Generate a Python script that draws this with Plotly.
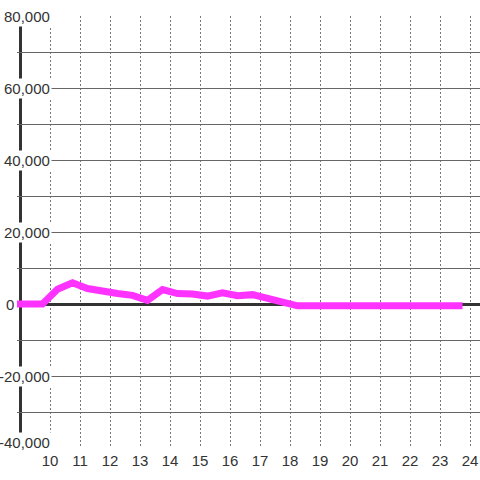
import plotly.graph_objects as go

# Data
hours = [8.75, 9.25, 9.75, 10.25, 10.75, 11.25, 11.75, 12.25, 12.75, 13.25, 13.75,
         14.25, 14.75, 15.25, 15.75, 16.25, 16.75, 17.25, 17.75, 18.25, 18.75,
         19.25, 19.75, 20.25, 20.75, 21.25, 21.75, 22.25, 22.75, 23.25, 23.75]
values = [0, 0, 0, 4100, 5900, 4300, 3500, 2900, 2400, 1000, 4000,
          2900, 2800, 2200, 3100, 2300, 2600, 1400, 400, -500, -500,
          -500, -500, -500, -500, -500, -500, -500, -500, -500, -500]
x_ticks = list(range(10, 25))
y_ticks = [-40000, -20000, 0, 20000, 40000, 60000, 80000]
y_labels = ["-40,000", "-20,000", "0", "20,000", "40,000", "60,000", "80,000"]

W, H = 480, 480
ML, MR, MT, MB = 17, 0, 16, 32
plot_w = W - ML - MR
px_per_unit = 30.0
x0 = 10 - (50 - ML) / px_per_unit
x1 = x0 + plot_w / px_per_unit

fig = go.Figure()
fig.add_trace(go.Scatter(
    x=hours, y=values, mode="lines",
    line=dict(color="#ff33ff", width=7),
    hoverinfo="skip", showlegend=False,
))

fig.update_layout(
    width=W, height=H,
    margin=dict(l=ML, r=MR, t=MT, b=MB, autoexpand=False),
    paper_bgcolor="white", plot_bgcolor="white",
    font=dict(family="Liberation Sans, Arial, sans-serif", size=15, color="#333333"),
    xaxis=dict(
        range=[x0, x1], tickvals=x_ticks, ticktext=[str(v) for v in x_ticks],
        showgrid=True, gridcolor="#777777", gridwidth=1, griddash="2px,2px",
        zeroline=False, showline=False, ticks="", automargin=False,
        ticklabelstandoff=2,
        tickfont=dict(size=15, color="#333333"),
    ),
    yaxis=dict(
        range=[-40000, 80000], dtick=10000, tick0=0,
        showgrid=True, gridcolor="#666666", gridwidth=1,
        zeroline=True, zerolinecolor="#333333", zerolinewidth=3,
        showticklabels=False, showline=False, ticks="", automargin=False,
    ),
)

# y axis line
fig.add_shape(type="line", xref="x domain", yref="y",
              x0=3.5 / plot_w, x1=3.5 / plot_w, y0=-40000, y1=80000,
              line=dict(color="#333333", width=3), layer="below")

# y tick labels with white background over the axis line
for v, lab in zip(y_ticks, y_labels):
    right_px = 16 if lab == "0" else 52
    shift = 6 if v == min(y_ticks) else 0
    fig.add_annotation(xref="x domain", yref="y", x=(right_px - ML) / plot_w, y=v,
                       text=lab, showarrow=False, xanchor="right", yanchor="middle",
                       yshift=shift, bgcolor="white", borderpad=1,
                       font=dict(size=15, color="#333333"))

fig.write_html("out.html", config={"displayModeBar": False},
               post_script="document.body.style.margin='0';document.body.style.overflow='hidden';")
